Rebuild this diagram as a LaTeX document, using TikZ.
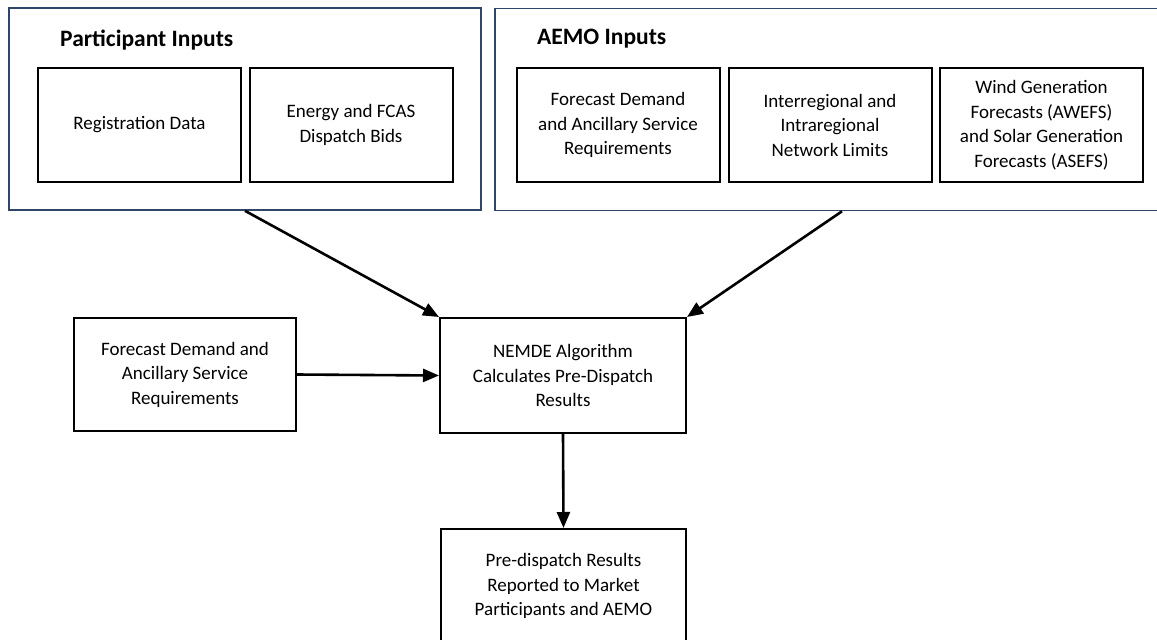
\documentclass[tikz,border=0pt]{standalone}
\usepackage{fontspec}
\setmainfont{Carlito}
\usepackage{tikz}
\usetikzlibrary{positioning,arrows.meta}
\definecolor{framecol}{RGB}{47,70,105}

\begin{document}
\begin{tikzpicture}[x=1pt,y=-1pt,
    inbox/.style={draw, line width=2pt, minimum width=203pt, minimum height=114pt, align=center, inner sep=2pt, font=\fontsize{19}{24.5}\selectfont},
    group/.style={draw=framecol, line width=1.6pt, minimum height=202pt},
    grouptitle/.style={anchor=west, inner sep=0pt, font=\bfseries\fontsize{23.5}{26}\selectfont},
    flow/.style={-{Triangle[length=16pt,width=13pt]}, line width=2.6pt}]

    \useasboundingbox (0,0) rectangle (1157,640);

    % input groups
    \node[group, minimum width=472pt] (part) at (245,109) {};
    \node[group, minimum width=694pt] (aemo) at (842,109.5) {};
    \node[grouptitle] (parttitle) at (60,40) {Participant Inputs};
    \node[grouptitle] (aemotitle) at (537,39) {AEMO Inputs};

    % participant inputs
    \node[inbox] (regdata) at (139.5,125) {Registration Data};
    \node[inbox] (bids) at (351,125) {Energy and FCAS\\Dispatch Bids};

    % aemo inputs
    \node[inbox] (aemofc) at (618,125) {Forecast Demand\\and Ancillary Service\\Requirements};
    \node[inbox] (limits) at (830,125) {Interregional and\\Intraregional\\Network Limits};
    \node[inbox] (windsolar) at (1041.5,125) {Wind Generation\\Forecasts (AWEFS)\\and Solar Generation\\Forecasts (ASEFS)};

    % dispatch calculation
    \node[inbox, minimum width=222pt, minimum height=113pt] (leftfc) at (185,374.5) {Forecast Demand and\\Ancillary Service\\Requirements};
    \node[inbox, minimum width=246pt, minimum height=115pt] (nemde) at (563,375.5) {NEMDE Algorithm\\Calculates Pre-Dispatch\\Results};
    \node[inbox, minimum width=245pt, minimum height=114pt] (results) at (563.5,586) {Pre-dispatch Results\\Reported to Market\\Participants and AEMO};

    % arrows
    \path[draw, flow] (part.south) -- (nemde.north west);
    \path[draw, flow] (aemo.south) -- (nemde.north east);
    \path[draw, flow] (leftfc.east) -- (nemde.west);
    \path[draw, flow] (nemde.south) -- (results.north);

\end{tikzpicture}
\end{document}
